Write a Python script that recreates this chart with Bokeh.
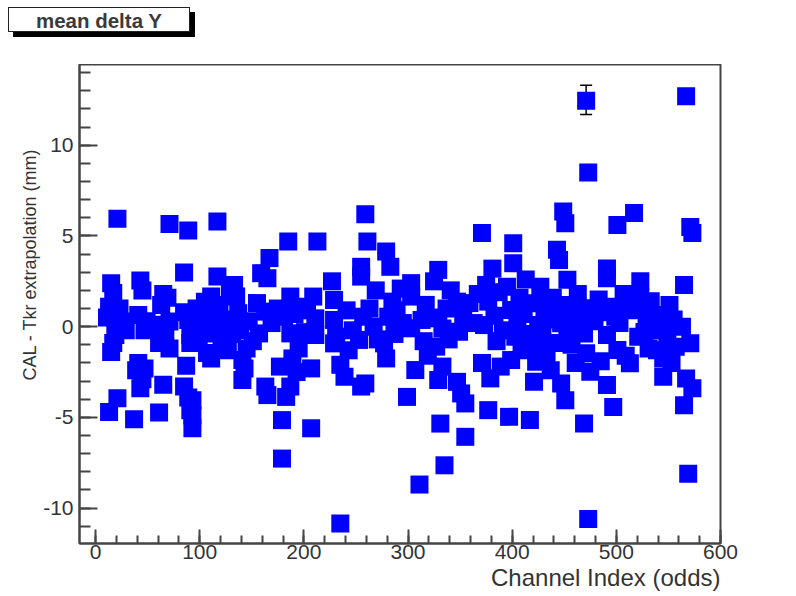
from bokeh.plotting import figure
from bokeh.layouts import column
from bokeh.models import (Range1d, Title, Whisker, TeeHead, Div,
                          ColumnDataSource, SingleIntervalTicker, PrintfTickFormatter)
from bokeh.embed import file_html
from bokeh.resources import INLINE

# ---- data: channel index (odd channels) and mean delta Y (mm) ----
channel = [13, 13, 15, 15, 17, 19, 21, 21, 25, 37, 39, 41, 43, 43, 45, 47, 47,
           61, 61, 63, 65, 65, 71, 71, 85, 85, 87, 89, 89, 91, 91, 93, 93,
           105, 107, 111, 111, 113, 115, 117, 117, 133, 135, 137, 139, 141, 141,
           157, 159, 163, 163, 165, 165, 167, 179, 179, 181, 183, 185, 187, 187,
           187, 189, 207, 207, 209, 211, 211, 213, 227, 229, 229, 229, 231, 235,
           235, 239, 253, 255, 255, 255, 257, 259, 259, 261, 277, 279, 279, 281,
           283, 285, 299, 303, 303, 303, 307, 311, 313, 325, 327, 329, 329, 329,
           331, 333, 333, 335, 347, 347, 349, 351, 353, 355, 355, 371, 371, 373,
           375, 377, 377, 379, 381, 395, 397, 399, 399, 401, 401, 403, 405, 417,
           421, 423, 423, 425, 425, 443, 445, 445, 447, 447, 449, 451, 451, 453,
           453, 455, 459, 469, 469, 471, 471, 471, 473, 473, 475, 491, 491, 491,
           491, 495, 497, 499, 501, 501, 513, 517, 521, 523, 523, 525, 543, 543,
           545, 545, 563, 565, 565, 567, 567, 569, 571, 571, 573, 573,
           11, 17, 23, 29, 49, 63, 69, 59, 67, 71, 85, 91, 41, 45, 89, 93, 97,
           99, 103,
           109, 119, 121, 125, 127, 129, 131, 143, 145, 147, 151, 155, 169, 175,
           177, 191, 193, 195, 199, 201, 203,
           241, 243, 247, 263, 267, 269, 271, 287, 289, 293, 295, 315, 317, 319,
           321,
           337, 339, 341, 359, 363, 367, 383, 385, 387, 389, 391, 407, 409, 411,
           413, 415, 427, 429, 431, 433, 435, 437, 439, 441,
           457, 461, 463, 465, 479, 483, 485, 487, 503, 507, 509, 511, 527, 529,
           531, 533, 535, 537, 539, 547, 549, 551, 553, 555, 557]
delta_y = [1.1, -4.7, 2.4, -1.4, 1.85, -0.46, 5.95, -3.95, 0.28, -5.1, -2.4, 0.65,
           2.54, -3.4, 2.0, -0.2, -2.3, -0.9, -4.73, 0.0, 1.8, -3.2, 5.66, 0.28,
           2.98, -3.3, -2.15, 5.3, 0.37, -0.46, -4.6, -4.05, -5.6, 1.38, -1.45,
           1.66, -1.75, 0.74, -0.37, 5.8, 2.76, 2.3, 1.66, 0.74, -0.18, -1.84,
           -2.94, -0.37, 2.95, 0.83, -3.3, 2.67, -3.77, 3.78, -5.15, -7.27, 0.55,
           -3.87, 4.7, -3.3, 1.66, -0.37, -1.75, -2.3, -5.6, 1.66, 0.46, -0.46,
           4.7, 2.5, 1.47, 0.37, -0.92, -0.55, -10.85, -2.1, -2.76, -0.73, -3.3,
           3.3, 2.76, 0.55, 6.2, -3.13, 4.7, -0.92, 4.14, -1.75, 0.55, 3.3, 1.38,
           -3.87, 2.4, 1.66, -0.09, -2.39, -8.7, 0.37, 2.5, -1.1, 3.13, 0.46,
           -2.94, -5.34, -0.1, -2.2, -7.64, 1.38, -3.04, -0.28, -3.68, 0.55,
           -4.23, -6.07, 5.16, -2.0, 0.09, 2.3, 1.38, -4.6, -2.85, 3.2, 2.2,
           -4.97, 0.92, -1.84, 3.5, 4.6, -0.55, 0.09, -5.15, -3.04, -1.93, 1.29,
           0.09, -1.01, 4.24, 3.68, 1.1, 0.19, -3.13, 6.35, 5.7, -4.05, 2.58,
           -0.18, 1.2, 0.55, -0.37, -5.34, 12.45, 1.01, -1.47, 8.5, -10.6, -2.49,
           3.2, 2.67, -0.46, -3.22, 1.1, -4.42, 0.55, 5.6, -1.29, -2.02, 6.26,
           -0.55, 2.5, 1.66, 0.92, 0.65, -0.18, -1.75, -2.76, 0.0, 2.3, -4.33,
           12.7, -2.85, -8.1, 5.5, -0.92, 5.16, -3.4,
           0.5, -0.9, 1.0, -0.2, 0.3, 1.2, 1.6, 0.1, -0.6, -1.2, 0.8, -0.9, -2.0,
           -2.9, -3.9, -4.9, 1.0, -0.5, 0.2,
           0.2, 1.2, -0.9, 0.4, -1.3, 1.9, -0.4, -2.3, -1.2, 0.3, -0.8, 1.3, 0.2,
           1.0, -2.2, 0.7, -2.5, -1.2, 0.9, -0.3, 1.1,
           0.9, -1.3, -0.2, 1.0, 0.0, 2.0, -0.7, -0.4, 0.9, 2.1, 0.2, -0.8, 1.2,
           -1.6, 0.5,
           1.0, -0.7, 2.0, 1.3, 0.2, 1.8, 0.6, -0.8, 1.9, -2.2, -0.2, 1.6, -1.3,
           0.7, 2.6, -0.4, 2.2, -0.3, 1.0, -1.5, 0.4, -2.4, 1.6, -0.9,
           -1.0, -2.0, 1.8, 0.3, 0.3, 1.5, -1.9, 0.8, 0.2, 1.8, -1.6, 0.9, -0.3,
           0.5, -1.2, 1.4, -0.2, 0.6, -1.3, 0.1, -0.8, 1.2, -2.0, 0.4, -1.1]

# the only visible error bar (others are hidden behind their markers)
err_channel = [471]
err_low = [11.7]
err_high = [13.3]

title_text = "mean delta Y"
x_title = "Channel Index (odds)"
y_title = "CAL - Tkr extrapolation (mm)"

FONT = "Liberation Sans"
TXT = "#333333"
AX = "#444444"

# ---- top strip with the ROOT-style title box (drop shadow) ----
box_style = ("position:absolute; left:8px; top:7px; width:182px; height:25px; "
             "border:1.5px solid #222; background:#fff; box-shadow:5px 5px 0 #000; "
             "font-family:'Liberation Sans'; font-weight:bold; font-size:20.5px; "
             "color:#3a3a3a; text-align:center; line-height:25px; white-space:nowrap;")
top = Div(text='<div style="%s">%s</div>' % (box_style, title_text),
          width=796, height=64, margin=(0, 0, 0, 0),
          styles={"position": "relative"})

# ---- main plot ----
p = figure(width=796, height=532, output_backend="svg", toolbar_location=None,
           x_range=Range1d(-15.4, 600), y_range=Range1d(-11.95, 14.45),
           min_border_left=79, min_border_right=76, min_border_top=0,
           min_border_bottom=53)
p.background_fill_color = "white"
p.border_fill_color = "white"
p.grid.visible = False
p.outline_line_color = AX
p.outline_line_width = 2

p.xaxis.ticker = SingleIntervalTicker(interval=100, num_minor_ticks=5)
p.yaxis.ticker = SingleIntervalTicker(interval=5, num_minor_ticks=5)
p.yaxis.formatter = PrintfTickFormatter(format="%d")
for ax in (p.xaxis[0], p.yaxis[0]):
    ax.axis_line_color = AX
    ax.axis_line_width = 2
    ax.major_tick_line_color = AX
    ax.minor_tick_line_color = AX
    ax.major_tick_line_width = 2
    ax.minor_tick_line_width = 2
    ax.major_tick_out = 0
    ax.minor_tick_out = 0
    ax.major_label_text_font = FONT
    ax.major_label_text_font_size = "21px"
    ax.major_label_text_color = TXT
p.xaxis.major_tick_in = 14
p.xaxis.minor_tick_in = 8
p.xaxis.major_label_standoff = 1
p.yaxis.major_tick_in = 18
p.yaxis.minor_tick_in = 11
p.yaxis.major_label_standoff = 6

p.add_layout(Title(text=y_title, align="right", offset=84, standoff=2,
                   text_font=FONT, text_font_size="18px",
                   text_font_style="normal", text_color=TXT), "left")
p.add_layout(Title(text=x_title, align="right", standoff=0,
                   text_font=FONT, text_font_size="24px",
                   text_font_style="normal", text_color=TXT), "below")

src = ColumnDataSource(dict(x=channel, y=delta_y))
esrc = ColumnDataSource(dict(x=err_channel, lo=err_low, hi=err_high))

p.add_layout(Whisker(source=esrc, base="x", lower="lo", upper="hi",
                     line_color="black", line_width=1.5, level="underlay",
                     lower_head=TeeHead(size=12, line_color="black", line_width=1.5),
                     upper_head=TeeHead(size=12, line_color="black", line_width=1.5)))

p.scatter("x", "y", source=src, marker="square", size=18,
          fill_color="#0000FF", line_color=None)

layout = column(top, p, spacing=0)
open("out.html", "w").write(file_html(layout, INLINE))
